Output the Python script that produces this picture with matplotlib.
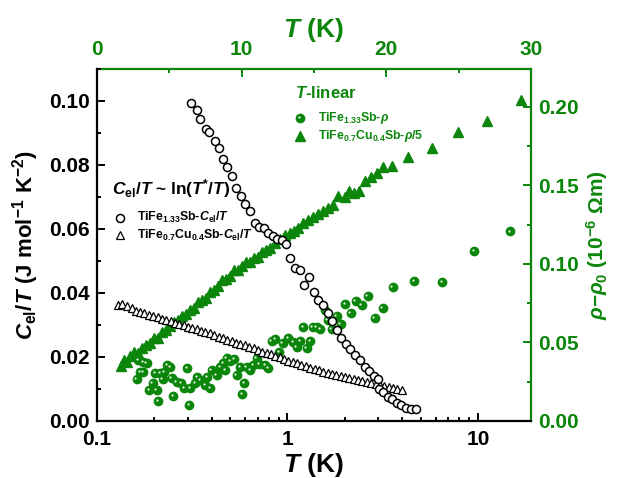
import matplotlib
matplotlib.use("Agg")
import matplotlib.pyplot as plt
import matplotlib.transforms as mtransforms
from matplotlib.ticker import FixedLocator, FixedFormatter, MultipleLocator, NullFormatter, LogLocator, FormatStrFormatter

plt.rcParams['font.family'] = ['Liberation Sans', 'DejaVu Sans']
plt.rcParams['font.weight'] = 'bold'
plt.rcParams['mathtext.fontset'] = 'custom'
plt.rcParams['mathtext.rm'] = 'Liberation Sans'
plt.rcParams['mathtext.it'] = 'Liberation Sans:italic'
plt.rcParams['mathtext.bf'] = 'Liberation Sans:bold'
plt.rcParams['mathtext.bfit'] = 'Liberation Sans:italic:bold'

GREEN = '#0b860b'

# ---- data: TiFe1.33Sb  C_el/T (bottom log T axis, left axis)
T_c = [0.313, 0.333, 0.349, 0.372, 0.387, 0.415, 0.435, 0.461, 0.483, 0.511,
       0.539, 0.568, 0.601, 0.635, 0.672, 0.707, 0.749, 0.789, 0.838, 0.883,
       0.934, 0.984, 1.037, 1.101, 1.166, 1.227, 1.293, 1.373, 1.453, 1.544,
       1.626, 1.714, 1.812, 1.911, 2.029, 2.130, 2.270, 2.402, 2.540, 2.687,
       2.844, 2.985, 3.032, 3.181, 3.367, 3.559, 3.753, 3.967, 4.213, 4.443, 4.719]
C_c = [0.0993, 0.0972, 0.0944, 0.0912, 0.0904, 0.0876, 0.0852, 0.0819, 0.0795, 0.0766,
       0.0729, 0.0703, 0.0677, 0.0656, 0.0620, 0.0607, 0.0604, 0.0588, 0.0578, 0.0570,
       0.0565, 0.0552, 0.0510, 0.0479, 0.0473, 0.0426, 0.0450, 0.0402, 0.0379, 0.0361,
       0.0339, 0.0311, 0.0285, 0.0259, 0.0241, 0.0225, 0.0207, 0.0191, 0.0170, 0.0155,
       0.0141, 0.0132, 0.0099, 0.0091, 0.0076, 0.0068, 0.0057, 0.0050, 0.0042, 0.0037, 0.0037]

# ---- data: TiFe0.7Cu0.4Sb  C_el/T
T_t = [0.129, 0.136, 0.144, 0.152, 0.160, 0.168, 0.177, 0.187, 0.197, 0.208,
       0.219, 0.231, 0.244, 0.257, 0.271, 0.285, 0.301, 0.317, 0.334, 0.352,
       0.371, 0.392, 0.413, 0.435, 0.459, 0.484, 0.510, 0.537, 0.566, 0.597,
       0.629, 0.664, 0.700, 0.737, 0.777, 0.819, 0.864, 0.910, 0.960, 1.012,
       1.066, 1.124, 1.185, 1.249, 1.317, 1.388, 1.463, 1.542, 1.625, 1.713,
       1.806, 1.904, 2.007, 2.115, 2.230, 2.350, 2.477, 2.611, 2.753, 2.901,
       3.058, 3.228, 3.403, 3.587, 3.781, 3.985]
C_t = [0.0364, 0.0366, 0.0358, 0.0352, 0.0345, 0.0341, 0.0337, 0.0332, 0.0328, 0.0324,
       0.0320, 0.0316, 0.0312, 0.0307, 0.0303, 0.0299, 0.0294, 0.0290, 0.0286, 0.0282,
       0.0278, 0.0274, 0.0269, 0.0264, 0.0259, 0.0254, 0.0250, 0.0245, 0.0240, 0.0236,
       0.0231, 0.0227, 0.0222, 0.0217, 0.0213, 0.0208, 0.0203, 0.0199, 0.0194, 0.0189,
       0.0185, 0.0180, 0.0175, 0.0171, 0.0166, 0.0161, 0.0158, 0.0154, 0.0151, 0.0147,
       0.0144, 0.0140, 0.0137, 0.0134, 0.0131, 0.0128, 0.0124, 0.0121, 0.0118, 0.0115,
       0.0112, 0.0109, 0.0106, 0.0103, 0.0100, 0.0097]

# ---- data: TiFe1.33Sb rho (top linear T axis, right axis)
T_rc = [2.74, 2.85, 2.97, 3.20, 3.20, 3.43, 3.61, 3.85, 4.01, 4.13,
        4.24, 4.35, 4.54, 4.63, 4.86, 5.04, 5.16, 5.27, 5.51, 5.81,
        6.01, 6.24, 6.38, 6.43, 6.77, 6.93, 7.12, 7.46, 7.62, 7.81,
        7.93, 8.27, 8.50, 8.73, 8.85, 8.96, 9.19, 9.47, 9.65, 9.88,
        10.04, 10.18, 10.35, 10.57, 10.80, 11.04, 11.22, 11.61, 11.84, 12.07,
        12.30, 12.60, 12.83, 13.22, 13.57, 13.80, 14.03, 14.26, 14.49, 14.72,
        14.91, 15.18, 15.41, 15.76, 15.94, 16.22, 16.57, 16.84, 17.14, 17.53,
        17.88, 18.29, 18.71, 19.19, 19.74, 20.44, 21.93, 23.86, 26.07, 28.54]
R_rc = [0.0266, 0.0389, 0.0314, 0.0314, 0.0378, 0.0368, 0.0197, 0.0240, 0.0304, 0.0197,
        0.0129, 0.0304, 0.0266, 0.0314, 0.0357, 0.0342, 0.0272, 0.0159, 0.0250, 0.0240,
        0.0208, 0.0336, 0.0102, 0.0208, 0.0240, 0.0282, 0.0261, 0.0229, 0.0282, 0.0208,
        0.0325, 0.0293, 0.0346, 0.0368, 0.0325, 0.0399, 0.0384, 0.0393, 0.0293, 0.0346,
        0.0172, 0.0240, 0.0346, 0.0325, 0.0357, 0.0401, 0.0361, 0.0357, 0.0336, 0.0511,
        0.0520, 0.0441, 0.0495, 0.0527, 0.0505, 0.0469, 0.0511, 0.0601, 0.0467, 0.0511,
        0.0597, 0.0597, 0.0584, 0.0707, 0.0643, 0.0584, 0.0669, 0.0616, 0.0745, 0.0690,
        0.0766, 0.0739, 0.0796, 0.0658, 0.0722, 0.0852, 0.0892, 0.0883, 0.1085, 0.1206]

# ---- data: TiFe0.7Cu0.4Sb rho/5
T_rt = [1.66, 1.87, 2.07, 2.28, 2.56, 2.83, 3.11, 3.39, 3.66, 3.94,
        4.22, 4.49, 4.77, 5.04, 5.32, 5.60, 5.87, 6.15, 6.43, 6.70,
        6.98, 7.26, 7.53, 7.81, 8.09, 8.36, 8.64, 8.91, 9.19, 9.47,
        9.74, 10.02, 10.30, 10.57, 10.85, 11.13, 11.40, 11.68, 11.96, 12.30,
        12.65, 12.99, 13.34, 13.61, 13.89, 14.24, 14.58, 14.93, 15.27, 15.62,
        15.96, 16.31, 16.66, 17.14, 17.42, 17.76, 18.11, 18.52, 18.94, 19.35,
        19.77, 20.39, 21.49, 23.15, 24.95, 26.95, 29.30]
R_rt = [0.0350, 0.0389, 0.0376, 0.0414, 0.0439, 0.0433, 0.0465, 0.0484, 0.0497, 0.0529,
        0.0529, 0.0567, 0.0580, 0.0605, 0.0631, 0.0643, 0.0669, 0.0682, 0.0707, 0.0720,
        0.0758, 0.0771, 0.0783, 0.0822, 0.0834, 0.0860, 0.0898, 0.0904, 0.0924, 0.0962,
        0.0962, 0.0987, 0.1013, 0.1013, 0.1038, 0.1045, 0.1076, 0.1089, 0.1102, 0.1134,
        0.1159, 0.1185, 0.1197, 0.1210, 0.1229, 0.1261, 0.1280, 0.1299, 0.1318, 0.1338,
        0.1357, 0.1376, 0.1433, 0.1427, 0.1465, 0.1452, 0.1465, 0.1529, 0.1554, 0.1580,
        0.1618, 0.1624, 0.1682, 0.1739, 0.1841, 0.1911, 0.2045]

bottom_ticks = [0.1, 1, 10]
bottom_labels = ['0.1', '1', '10']

fig = plt.figure(figsize=(6.19, 4.78), dpi=100)
rect = [97/619, 57/478, 434/619, 352/478]

# green axes (top / right), drawn below
axg = fig.add_axes(rect)
axg.set_xlim(0, 30)
axg.set_ylim(0, 0.224)
axg.xaxis.tick_top()
axg.xaxis.set_label_position('top')
axg.yaxis.tick_right()
axg.yaxis.set_label_position('right')
for s in ['left', 'bottom']:
    axg.spines[s].set_visible(False)
for s in ['top', 'right']:
    axg.spines[s].set_color(GREEN)
    axg.spines[s].set_linewidth(1.6)
axg.xaxis.set_major_locator(MultipleLocator(10))
axg.xaxis.set_minor_locator(MultipleLocator(5))
axg.yaxis.set_major_locator(MultipleLocator(0.05))
axg.yaxis.set_minor_locator(MultipleLocator(0.025))
axg.yaxis.set_major_formatter(FormatStrFormatter('%.2f'))
axg.tick_params(which='both', direction='in', colors=GREEN, width=1.4, labelsize=15)
axg.tick_params(which='major', length=6)
axg.tick_params(which='minor', length=3)
axg.tick_params(axis='x', which='major', pad=7)
axg.tick_params(axis='y', which='major', pad=5)
for lab in axg.get_xticklabels() + axg.get_yticklabels():
    lab.set_fontweight('bold')
axg.set_xlabel(r'$\mathbfit{T}\ \mathbf{(K)}$', color=GREEN, fontsize=19, labelpad=2)
axg.set_ylabel(r'$\mathit{\rho}\mathrm{-}\mathit{\rho}_\mathrm{0}\ \mathrm{(10^{-6}\ \Omega m)}$',
               color=GREEN, fontsize=15, labelpad=4)

axg.plot(T_rt, R_rt, linestyle='none', marker='^', markersize=7.5, color=GREEN, mec=GREEN, zorder=2)
axg.plot(T_rc, R_rc, linestyle='none', marker='o', markersize=6, color=GREEN, mec=GREEN, zorder=3)
hl = mtransforms.offset_copy(axg.transData, fig=fig, x=-0.9, y=0.6, units='points')
axg.plot(T_rc, R_rc, linestyle='none', marker='o', markersize=1.6, color='#e4f6e4', mec='none',
         transform=hl, zorder=4)

# black axes (bottom log / left), on top
ax = fig.add_axes(rect)
ax.set_facecolor('none')
ax.set_xscale('log')
ax.set_xlim(0.1, 19)
ax.set_ylim(0, 0.11)
for s in ['top', 'right']:
    ax.spines[s].set_visible(False)
for s in ['left', 'bottom']:
    ax.spines[s].set_linewidth(1.6)
ax.xaxis.set_major_locator(FixedLocator(bottom_ticks))
ax.xaxis.set_major_formatter(FixedFormatter(bottom_labels))
ax.xaxis.set_minor_locator(LogLocator(base=10, subs=range(2, 10)))
ax.xaxis.set_minor_formatter(NullFormatter())
ax.yaxis.set_major_locator(MultipleLocator(0.02))
ax.yaxis.set_minor_locator(MultipleLocator(0.01))
ax.yaxis.set_major_formatter(FormatStrFormatter('%.2f'))
ax.tick_params(which='both', direction='in', width=1.4, labelsize=15, top=False, right=False)
ax.tick_params(which='major', length=6)
ax.tick_params(which='minor', length=3)
ax.tick_params(axis='x', which='major', pad=6.5)
ax.tick_params(axis='y', which='major', pad=5)
for lab in ax.get_xticklabels() + ax.get_yticklabels():
    lab.set_fontweight('bold')
ax.set_xlabel(r'$\mathbfit{T}\ \mathbf{(K)}$', fontsize=19, labelpad=1.5)
ax.set_ylabel(r'$\mathbfit{C}_{\mathbf{el}}\mathbf{/}\mathbfit{T}\ \mathbf{(J\ mol^{-1}\ K^{-2})}$',
              fontsize=16, labelpad=6)

ax.plot(T_t, C_t, linestyle='none', marker='^', markersize=5.5, mfc='white', mec='black', mew=0.9, zorder=3)
ax.plot(T_c, C_c, linestyle='none', marker='o', markersize=5.8, mfc='white', mec='black', mew=1.1, zorder=4)

# ---- legends (manual)
def fx(px):
    return (px - 97) / 434
def fy(py):
    return (421 - py) / 352

ax.text(fx(112), fy(189),
        r'$\mathbfit{C}_{\mathbf{el}}\mathbf{/}\mathbfit{T}$' + ' ~ ln(' + r'$\mathbfit{T}^{\mathbf{*}}\mathbf{/}\mathbfit{T}$' + ')',
        transform=ax.transAxes, fontsize=12.5, va='center', ha='left', fontweight='bold')
ax.plot([fx(120)], [fy(217.5)], transform=ax.transAxes, marker='o', markersize=5.8, mfc='white',
        mec='black', mew=1.1, clip_on=False)
ax.text(fx(137), fy(217.5), r'$\mathbf{TiFe_{1.33}Sb}\mathbf{\text{-}}\mathbfit{C}_{\mathbf{el}}\mathbf{/}\mathbfit{T}$',
        transform=ax.transAxes, fontsize=8.8, va='center', ha='left')
ax.plot([fx(120)], [fy(235)], transform=ax.transAxes, marker='^', markersize=5.5, mfc='white',
        mec='black', mew=0.9, clip_on=False)
ax.text(fx(137), fy(235), r'$\mathbf{TiFe_{0.7}Cu_{0.4}Sb}\mathbf{\text{-}}\mathbfit{C}_{\mathbf{el}}\mathbf{/}\mathbfit{T}$',
        transform=ax.transAxes, fontsize=8.8, va='center', ha='left')

ax.text(fx(295), fy(93), r'$\mathbfit{T}\mathbf{\text{-}linear}$', transform=ax.transAxes,
        fontsize=12, va='center', ha='left', color=GREEN)
ax.plot([fx(300)], [fy(117.5)], transform=ax.transAxes, marker='o', markersize=6, color=GREEN,
        mec=GREEN, clip_on=False)
ax.plot([fx(299.2)], [fy(117)], transform=ax.transAxes, marker='o', markersize=1.6, color='#e4f6e4',
        mec='none', clip_on=False)
ax.text(fx(318), fy(117.5), r'$\mathbf{TiFe_{1.33}Sb}\mathbf{\text{-}}\mathit{\rho}$',
        transform=ax.transAxes, fontsize=8.8, va='center', ha='left', color=GREEN)
ax.plot([fx(300)], [fy(136)], transform=ax.transAxes, marker='^', markersize=7.5, color=GREEN,
        mec=GREEN, clip_on=False)
ax.text(fx(318), fy(136), r'$\mathbf{TiFe_{0.7}Cu_{0.4}Sb}\mathbf{\text{-}}\mathit{\rho}\mathbf{/5}$',
        transform=ax.transAxes, fontsize=8.8, va='center', ha='left', color=GREEN)

fig.savefig('out.png', dpi=100)
